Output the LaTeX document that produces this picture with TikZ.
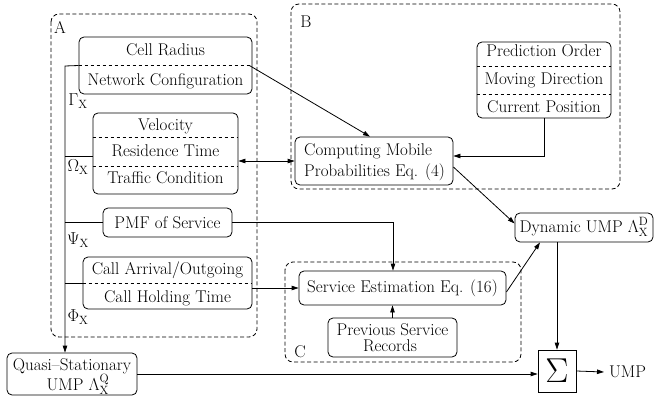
\documentclass[tikz,border=0pt]{standalone}
\usepackage{graphicx}
\usetikzlibrary{arrows.meta,calc}
\begin{document}
\begin{tikzpicture}[x=1pt,y=-1pt,
  every node/.style={font=\fontsize{17}{19}\selectfont},
  rbox/.style={draw,line width=0.8pt,rounded corners=5pt,inner sep=0pt},
  grp/.style={draw,line width=0.8pt,dash pattern=on 4pt off 2.5pt,rounded corners=8pt},
  sep/.style={line width=0.7pt,dash pattern=on 3.5pt off 2.5pt},
  ln/.style={line width=0.8pt},
  arr/.style={ln,-{Triangle[length=7pt,width=4.5pt]}},
  txt/.style={inner sep=0pt,anchor=center}
]
\useasboundingbox (0,0) rectangle (655,403);
% groups
\draw[grp] (51,14) rectangle (257,337);
\draw[grp] (291,4) rectangle (620,189);
\draw[grp] (285,262) rectangle (521,362);
\node[txt] (lA) at (60,27) {A};
\node[txt] (lB) at (306,22) {B};
\node[txt] (lC) at (300,352) {C};
% group A boxes
\node[rbox,minimum width=173pt,minimum height=57pt] (cr) at (165.5,65.5) {};
\draw[sep] (cr.west) -- (cr.east);
\node[txt] (tcr1) at (165.5,50) {Cell Radius};
\node[txt] (tcr2) at (165.5,81) {Network Configuration};
\node[rbox,minimum width=145pt,minimum height=81pt] (vel) at (165.5,153.5) {};
\draw[sep] (vel.west |- 0,137) -- (vel.east |- 0,137);
\draw[sep] (vel.west |- 0,166) -- (vel.east |- 0,166);
\node[txt] (tv1) at (165.5,126) {Velocity};
\node[txt] (tv2) at (165.5,151) {Residence Time};
\node[txt] (tv3) at (165.5,178) {Traffic Condition};
\node[rbox,minimum width=129pt,minimum height=29pt] (pmf) at (167.5,222.5) {PMF of Service};
\node[rbox,minimum width=169pt,minimum height=52pt] (call) at (167.5,283) {};
\draw[sep] (call.west) -- (call.east);
\node[txt] (tc1) at (167.5,270) {Call Arrival/Outgoing};
\node[txt] (tc2) at (167.5,298) {Call Holding Time};
% quasi
\node[rbox,minimum width=130pt,minimum height=42pt] (qs) at (72,374) {};
\node[txt] (tq1) at (72,366) {Quasi--Stationary};
\node[txt] (tq2) at (78,384) {UMP $\Lambda^{\mathrm{Q}}_{\mathrm{X}}$};
% group B
\node[rbox,minimum width=158pt,minimum height=48pt] (comp) at (374,161) {};
\node[txt,anchor=west] (tcm1) at (304,151) {Computing Mobile};
\node[txt,anchor=west] (tcm2) at (304,172) {Probabilities Eq. (4)};
\node[rbox,minimum width=134pt,minimum height=76pt] (pred) at (544,80) {};
\draw[sep] (pred.west |- 0,66) -- (pred.east |- 0,66);
\draw[sep] (pred.west |- 0,94) -- (pred.east |- 0,94);
\node[txt] (tp1) at (544,51) {Prediction Order};
\node[txt] (tp2) at (544,80) {Moving Direction};
\node[txt] (tp3) at (544,107) {Current Position};
% dynamic
\node[rbox,minimum width=138pt,minimum height=29pt] (dyn) at (584,227.5) {};
\node[txt] (td) at (584,227) {Dynamic UMP $\Lambda^{\mathrm{D}}_{\mathrm{X}}$};
% group C
\node[rbox,minimum width=207pt,minimum height=34pt] (se) at (402.5,288) {Service Estimation Eq. (16)};
\node[rbox,minimum width=129pt,minimum height=39pt] (psr) at (392.5,337.5) {};
\node[txt] (tpsr1) at (392.5,330) {Previous Service};
\node[txt] (tpsr2) at (390,346) {Records};
% sigma
\node[draw,line width=0.8pt,minimum width=38pt,minimum height=42pt,inner sep=0pt] (sig) at (557,371) {\scalebox{2}{$\Sigma$}};
\node[txt,anchor=west] (ump) at (609,372) {UMP};
% greek labels
\node[txt] (g1) at (78,101) {$\Gamma_{\mathrm{X}}$};
\node[txt] (g2) at (78,167) {$\Omega_{\mathrm{X}}$};
\node[txt] (g3) at (78,240) {$\Psi_{\mathrm{X}}$};
\node[txt] (g4) at (78,317) {$\Phi_{\mathrm{X}}$};
% connectors
\coordinate (trunk) at (65,66);
\draw[arr] (cr.west) -- (trunk) -- (trunk |- qs.north);
\draw[ln] (vel.west |- 0,156) -- (trunk |- 0,156);
\draw[ln] (pmf.west) -- (pmf.west -| trunk);
\draw[ln] (call.west) -- (call.west -| trunk);
\draw[arr] (pmf.east) -| ([xshift=-9.5pt]se.north);
\draw[arr] (call.east |- se.west) -- (se.west);
\draw[arr] (psr.north) -- (psr.north |- se.south);
\draw[arr,{Triangle[length=7pt,width=4.5pt]}-{Triangle[length=7pt,width=4.5pt]}] (comp.west) -- (comp.west -| vel.east);
\draw[arr] (pred.south) |- ([yshift=5pt]comp.east);
\draw[arr] ([xshift=-3pt]cr.east) -- ([xshift=-4pt]comp.north);
\draw[arr] ([yshift=-6pt]comp.east) -- ([yshift=4pt]dyn.west);
\draw[arr] ([yshift=-4pt]se.east) -- ([xshift=-44pt]dyn.south);
\draw[arr] (sig.north |- dyn.south) -- (sig.north);
\draw[arr] (qs.east) -- (sig.west |- qs.east);
\draw[arr] (sig.east) -- ([xshift=-5pt]ump.west);
\end{tikzpicture}
\end{document}
